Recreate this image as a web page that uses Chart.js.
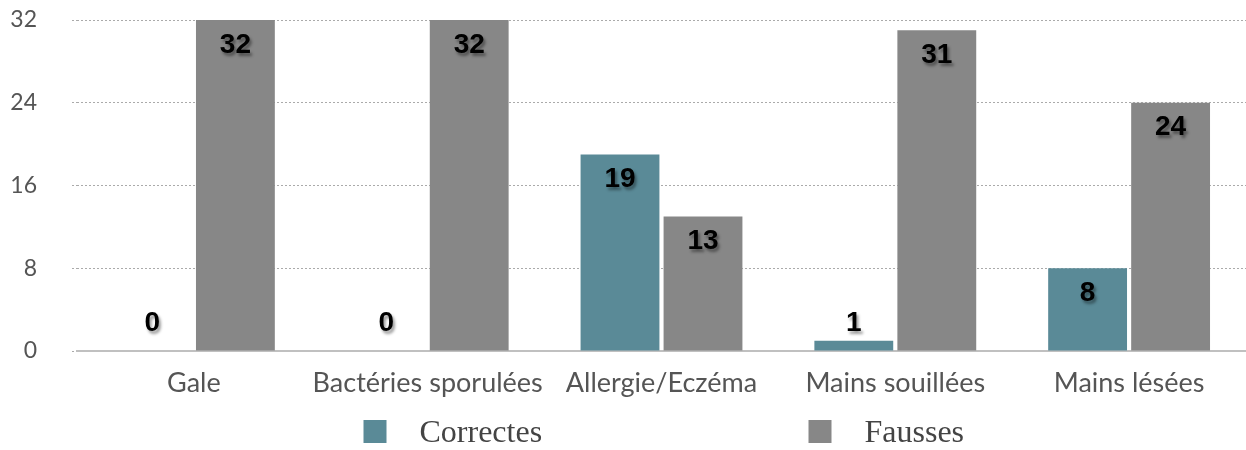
<!DOCTYPE html>
<html>
<head>
<meta charset="utf-8">
<script src="https://cdn.jsdelivr.net/npm/chart.js@4.4.1/dist/chart.umd.min.js"></script>
<style>
  html, body { margin: 0; padding: 0; background: #fff; }
  #wrap { width: 1246px; height: 450px; }
</style>
</head>
<body>
<div id="wrap"><canvas id="chart"></canvas></div>
<script>
// chart data
var categories = ['Gale', 'Bactéries sporulées', 'Allergie/Eczéma', 'Mains souillées', 'Mains lésées'];
var correctes = [0, 0, 19, 1, 8];
var fausses = [32, 32, 13, 31, 24];
var seriesNames = ['Correctes', 'Fausses'];
var yTicks = [0, 8, 16, 24, 32];

// value labels near the top of each bar, kept above the baseline
var barLabels = {
    id: 'barLabels',
    afterDatasetsDraw(chart) {
        const ctx = chart.ctx;
        const base = chart.scales.y.getPixelForValue(0);
        ctx.save();
        ctx.font = 'bold 28px "Liberation Sans", Arial, sans-serif';
        ctx.textAlign = 'center';
        ctx.textBaseline = 'middle';
        ctx.fillStyle = '#000';
        ctx.shadowColor = 'rgba(0,0,0,0.4)';
        ctx.shadowOffsetX = 2;
        ctx.shadowOffsetY = 3;
        ctx.shadowBlur = 3;
        chart.data.datasets.forEach((ds, i) => {
            chart.getDatasetMeta(i).data.forEach((bar, j) => {
                let y = Math.min(bar.y + 25, base - 28);
                ctx.fillText(String(ds.data[j]), bar.x, y);
            });
        });
        ctx.restore();
    }
};

// legend under the axis labels, centred on the plot
var bottomLegend = {
    id: 'bottomLegend',
    afterDraw(chart) {
        const ctx = chart.ctx;
        const area = chart.chartArea;
        const mid = (area.left + area.right) / 2;
        const starts = [mid - 298, mid + 147];
        ctx.save();
        ctx.font = '32px "Liberation Serif", "Times New Roman", serif';
        ctx.textBaseline = 'middle';
        ctx.textAlign = 'left';
        chart.data.datasets.forEach((ds, i) => {
            const x = starts[i];
            ctx.fillStyle = ds.backgroundColor;
            ctx.fillRect(x, 420, 23, 23);
            ctx.fillStyle = '#444';
            ctx.fillText(ds.label, x + 56, 434);
        });
        ctx.restore();
    }
};

var ctx = document.getElementById('chart').getContext('2d');
var chart = new Chart(ctx, {
    type: 'bar',
    data: {
        labels: categories,
        datasets: [{
            label: seriesNames[0],
            data: correctes,
            backgroundColor: '#5a8a97'
        }, {
            label: seriesNames[1],
            data: fausses,
            backgroundColor: '#878787'
        }]
    },
    options: {
        responsive: true,
        maintainAspectRatio: false,
        animation: false,
        categoryPercentage: 0.71,
        barPercentage: 0.95,
        layout: { padding: { top: 20, right: 0, bottom: 51, left: 0 } },
        plugins: {
            legend: { display: false },
            tooltip: { enabled: false }
        },
        scales: {
            x: {
                afterFit(scale) { scale.height = 48; },
                grid: { display: false, drawTicks: false },
                border: { display: true, color: '#c0c0c0', width: 2 },
                ticks: {
                    padding: 16,
                    maxRotation: 0,
                    minRotation: 0,
                    autoSkip: false,
                    color: '#555',
                    font: { family: 'Lato, "Open Sans", sans-serif', size: 27 }
                }
            },
            y: {
                min: 0,
                max: 32,
                afterBuildTicks(scale) {
                    scale.ticks = yTicks.map(v => ({ value: v }));
                },
                afterFit(scale) {
                    scale.width = 77;
                    scale.paddingTop = 10;
                    scale.paddingBottom = 10;
                },
                grid: {
                    color: '#aaaaaa',
                    lineWidth: 1,
                    tickLength: 5,
                    tickBorderDash: [2, 2],
                    tickColor: '#aaaaaa'
                },
                border: { display: false, dash: [2, 2] },
                ticks: {
                    padding: 35,
                    color: '#555',
                    font: { family: 'Lato, "Open Sans", sans-serif', size: 23 }
                }
            }
        }
    },
    plugins: [barLabels, bottomLegend]
});
</script>
</body>
</html>
